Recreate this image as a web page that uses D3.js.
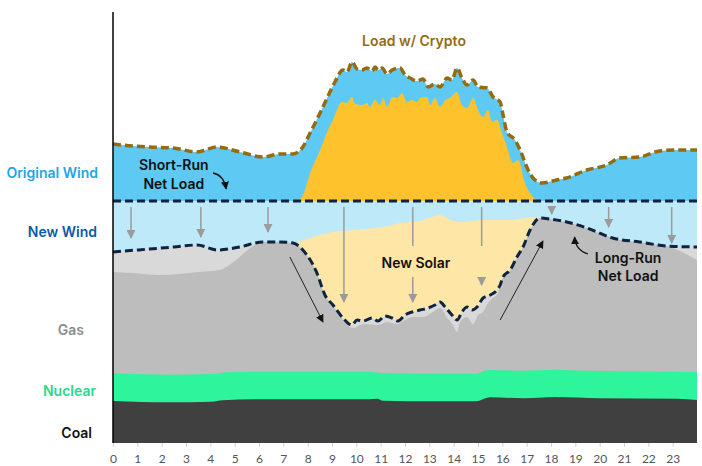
<!DOCTYPE html>
<html>
<head>
<meta charset="utf-8">
<script src="https://cdn.jsdelivr.net/npm/d3@7"></script>
<style>
body { margin: 0; background: #fff; }
text { font-family: Inter, "DejaVu Sans", sans-serif; }
</style>
</head>
<body>
<div id="chart"></div>
<script>
var width = 702, height = 466;

// values as [hour, GW]
var loadWithCrypto = [[0,29.9],[0.8,29.7],[1.5,29.6],[2.47,29.5],[3.45,29.1],[4.27,29.6],[5.22,29.1],[6.16,28.6],[6.86,28.9],[7.4,28.9],
  [7.8,29.6],[8.1,31.0],[8.51,33.0],[8.8,34.5],[9.12,36.1],[9.45,37.3],[9.62,37.1],[9.82,38.1],[10.03,37.4],[10.23,37.3],
  [10.44,37.5],[10.65,37.2],[10.77,37.6],[10.89,37.3],[11.06,37.5],[11.26,36.9],[11.47,37.3],[11.8,37.5],[12.0,36.8],[12.21,36.5],
  [12.5,36.2],[12.74,36.4],[12.95,35.6],[13.23,35.9],[13.44,35.6],[13.73,36.5],[13.93,36.3],[14.14,37.5],[14.34,36.5],[14.55,35.8],
  [14.8,36.3],[15.0,35.6],[15.37,35.5],[15.62,34.6],[15.91,34.1],[16.03,32.8],[16.19,31.1],[16.52,30.3],[16.73,29.3],[17.06,27.3],
  [17.3,26.4],[17.63,26.0],[18.23,26.3],[18.64,26.5],[19.47,27.3],[20.29,27.8],[20.82,28.5],[21.64,28.6],[22.46,29.2],[23.16,29.3],[24,29.3]];

var solarTop = [[7.56,24.2],[7.81,24.8],[8.1,27.0],[8.51,29.3],[8.8,31.1],[9.04,32.3],[9.41,34.1],[9.62,34.0],[9.82,34.6],[9.95,33.9],
  [10.23,33.8],[10.44,34.0],[10.56,33.6],[10.77,34.3],[10.97,33.8],[11.1,34.5],[11.26,33.6],[11.47,34.6],[11.67,34.5],[11.88,35.0],
  [12.08,34.1],[12.29,34.3],[12.49,34.1],[12.62,34.5],[12.91,34.6],[13.03,33.8],[13.23,34.5],[13.44,33.6],[13.65,34.3],[13.85,34.5],
  [14.14,35.1],[14.34,33.8],[14.55,33.5],[14.8,34.5],[15.0,33.3],[15.21,32.6],[15.41,33.3],[15.58,32.1],[15.78,32.3],[15.99,31.0],
  [16.19,29.6],[16.44,28.0],[16.65,28.3],[16.93,26.0],[17.26,24.6],[17.47,24.2]];

var shortRunNetLoad = [[0,24.2],[24,24.2]];

var newSolarTop = [[7.5,20.0],[8.2,20.6],[9.03,21.1],[9.86,21.3],[11.1,21.6],[11.8,22.0],[12.6,22.2],[13.1,22.6],[13.43,22.8],
  [13.9,22.3],[14.25,22.1],[15.2,22.3],[16.3,22.3],[17.25,22.6],[17.55,22.5]];

var longRunNetLoad = [[0,19.1],[1.5,19.4],[2.5,19.6],[3.45,19.8],[4.3,19.3],[5.2,19.6],[6.15,20.1],[6.8,20.1],[7.4,20.0],[7.8,19.3],
  [8.38,17.0],[8.71,14.8],[9.04,13.8],[9.45,12.5],[9.82,11.8],[10.03,12.3],[10.28,12.2],[10.65,12.5],[10.89,12.2],[11.18,12.7],
  [11.47,12.5],[11.71,12.2],[12.0,12.8],[12.29,13.1],[12.62,13.3],[12.95,13.5],[13.23,13.8],[13.44,14.1],[13.65,13.6],[13.93,12.8],
  [14.14,12.3],[14.34,13.1],[14.55,13.6],[14.76,13.3],[14.96,13.6],[15.21,14.5],[15.5,14.8],[15.78,15.3],[15.91,15.8],[16.03,16.6],
  [16.32,17.3],[16.6,18.6],[16.85,19.6],[17.14,21.3],[17.55,22.5],[17.95,22.4],[18.65,22.1],[19.47,21.5],[20.53,20.5],[21.64,20.1],
  [22.75,19.7],[24,19.6]];

var gasTop = [[0,17.1],[0.8,17.0],[1.9,16.8],[3.55,17.1],[4.4,17.3],[4.95,18.1],[5.65,19.5],[6.15,20.1],[6.8,20.1],[7.4,20.0],
  [7.8,19.3],[8.38,17.0],[8.71,14.8],[9.04,13.7],[9.45,12.3],[9.86,11.5],[10.3,11.9],[10.9,11.8],[11.26,12.1],[11.67,11.9],
  [11.92,12.2],[12.33,12.6],[12.74,12.6],[13.15,13.1],[13.44,13.5],[13.73,12.5],[13.97,11.8],[14.14,11.1],[14.26,12.1],[14.55,12.6],
  [14.8,11.9],[15.0,12.8],[15.21,13.1],[15.41,14.0],[15.62,14.5],[15.82,15.0],[16.0,16.5],[16.32,17.3],[16.6,18.6],[16.85,19.6],
  [17.14,21.3],[17.55,22.5],[17.95,22.4],[18.65,22.1],[19.47,21.5],[20.53,20.5],[21.64,20.1],[22.75,19.7],[23.0,19.5],[24,18.3]];

var nuclearTop = [[0,6.97],[2.3,6.83],[4.05,6.9],[4.7,7.07],[5.8,7.13],[10.55,7.13],[11.0,7.0],[13.2,6.93],[14.95,6.93],
  [15.4,7.3],[16.9,7.23],[18.15,7.33],[19.4,7.23],[23.2,7.13],[24,7.07]];

var coalTop = [[0,4.2],[2.3,4.07],[4.05,4.13],[4.5,4.27],[5.8,4.37],[10.5,4.37],[10.85,4.43],[11.1,4.23],[13.2,4.17],[14.9,4.17],
  [15.5,4.57],[16.9,4.47],[18.15,4.6],[20,4.47],[23.2,4.43],[24,4.3]];

var hourTicks = d3.range(0, 24);

// gray "shift" arrows from short-run down to long-run net load
var shiftHours = [0.74, 3.61, 6.37, 9.49, 12.32, 15.15, 18.03, 20.37, 22.96];
var shiftEnds = [20.5, 20.6, 21.1, 14.1, 14.1, 15.8, 22.9, 21.6, 20.0];

var sideLabels = ["Original Wind", "New Wind", "Gas", "Nuclear", "Coal"];

var svg = d3.select("#chart").append("svg")
    .attr("width", width)
    .attr("height", height);

var x = d3.scaleLinear().domain([0, 24]).range([113, 697]),
    y = d3.scaleLinear().domain([0, 43]).range([443, 13]);

var defs = svg.append("defs");
function marker(id, color, size) {
    defs.append("marker")
        .attr("id", id)
        .attr("viewBox", "0 0 10 10")
        .attr("refX", 9).attr("refY", 5)
        .attr("markerUnits", "userSpaceOnUse")
        .attr("markerWidth", size).attr("markerHeight", size)
        .attr("orient", "auto")
      .append("path")
        .attr("d", "M0,0L10,5L0,10z")
        .attr("fill", color);
}
marker("headGray", "#9b9b9b", 9);
marker("headBlack", "#111", 8);

var areaGen = d3.area()
    .x(function(d) { return x(d[0]); })
    .y0(y(0))
    .y1(function(d) { return y(d[1]); })
    .curve(d3.curveMonotoneX);

var lineGen = d3.line()
    .x(function(d) { return x(d[0]); })
    .y(function(d) { return y(d[1]); })
    .curve(d3.curveMonotoneX);

defs.append("clipPath").attr("id", "belowLongRun")
  .append("path").attr("d", areaGen(longRunNetLoad));

var g = svg.append("g");

// painted top layer first, each lower boundary covers the rest
function layer(data, fill, clip) {
    var p = g.append("path").attr("d", areaGen(data)).attr("fill", fill);
    if (clip) p.attr("clip-path", "url(#" + clip + ")");
}
layer(loadWithCrypto, "#5ec9f2");
layer(solarTop, "#fec32c");
layer(shortRunNetLoad, "#bde9f8");
layer(newSolarTop, "#fde6a6");
layer(longRunNetLoad, "#d9d9d9");
layer(gasTop, "#bcbdbc", "belowLongRun");
layer(nuclearTop, "#2ef59b");
layer(coalTop, "#404040");

// shift arrows
shiftHours.forEach(function(h, i) {
    var gap = (h > 12 && h < 16);
    if (gap) {
        g.append("line")
            .attr("x1", x(h)).attr("x2", x(h))
            .attr("y1", y(23.6)).attr("y2", y(19.7))
            .attr("stroke", "#9b9b9b").attr("stroke-width", 1.5);
        g.append("line")
            .attr("x1", x(h)).attr("x2", x(h))
            .attr("y1", y(16.6)).attr("y2", y(shiftEnds[i]))
            .attr("stroke", "#9b9b9b").attr("stroke-width", 1.5)
            .attr("marker-end", "url(#headGray)");
    } else {
        g.append("line")
            .attr("x1", x(h)).attr("x2", x(h))
            .attr("y1", y(23.6)).attr("y2", y(shiftEnds[i]))
            .attr("stroke", "#9b9b9b").attr("stroke-width", 1.5)
            .attr("marker-end", "url(#headGray)");
    }
});

// net load and load lines
g.append("path").attr("d", lineGen(shortRunNetLoad))
    .attr("fill", "none").attr("stroke", "#0f2340").attr("stroke-width", 3)
    .attr("stroke-dasharray", "8,4");
g.append("path").attr("d", lineGen(longRunNetLoad))
    .attr("fill", "none").attr("stroke", "#0f2340").attr("stroke-width", 3)
    .attr("stroke-dasharray", "8,4");
g.append("path").attr("d", lineGen(loadWithCrypto))
    .attr("fill", "none").attr("stroke", "#946b10").attr("stroke-width", 3.5)
    .attr("stroke-dasharray", "8,4");

// black pointer arrows
function pointer(a, b) {
    g.append("line")
        .attr("x1", x(a[0])).attr("y1", y(a[1]))
        .attr("x2", x(b[0])).attr("y2", y(b[1]))
        .attr("stroke", "#222").attr("stroke-width", 1)
        .attr("marker-end", "url(#headBlack)");
}
pointer([7.27, 18.6], [8.63, 12.1]);
pointer([15.91, 12.3], [17.67, 20.2]);

function curved(a, c, b) {
    var p = d3.path();
    p.moveTo(x(a[0]), y(a[1]));
    p.quadraticCurveTo(x(c[0]), y(c[1]), x(b[0]), y(b[1]));
    g.append("path").attr("d", p.toString())
        .attr("fill", "none").attr("stroke", "#111").attr("stroke-width", 1.3)
        .attr("marker-end", "url(#headBlack)");
}
curved([4.11, 27.0], [4.55, 26.8], [4.65, 25.4]);
curved([19.52, 18.9], [19.0, 19.3], [18.97, 20.6]);

// axes
var xAxis = d3.axisBottom(x).tickValues(hourTicks).tickSize(4).tickPadding(7);
var ax = svg.append("g").attr("transform", "translate(0," + y(0) + ")").call(xAxis);
ax.select(".domain").remove();
ax.selectAll(".tick line").attr("stroke", "#cfcfcf");
ax.selectAll(".tick text").attr("fill", "#555").attr("font-size", 12)
    .style("font-family", "Lato, 'DejaVu Sans', sans-serif");

svg.append("line")
    .attr("x1", x(0)).attr("x2", x(0))
    .attr("y1", y(43.1)).attr("y2", y(0))
    .attr("stroke", "#000").attr("stroke-width", 1.5);

// annotations
function note(txt, h, v, color) {
    svg.append("text")
        .attr("x", x(h)).attr("y", y(v))
        .attr("text-anchor", "middle")
        .attr("font-size", 14).attr("font-weight", 600)
        .attr("fill", color)
        .text(txt);
}
note("Load w/ Crypto", 12.37, 39.7, "#946b10");
note("Short-Run", 2.5, 27.3, "#111");
note("Net Load", 2.5, 25.4, "#111");
note("New Solar", 12.45, 17.5, "#111");
note("Long-Run", 21.17, 18.0, "#111");
note("Net Load", 21.17, 16.2, "#111");

var sideColors = ["#1ea7e6", "#0b5aa8", "#8c8c8c", "#2bd98c", "#111"],
    sideX = [98, 97, 84, 96, 92],
    sideY = [26.5, 20.6, 10.8, 4.7, 0.5];
sideLabels.forEach(function(t, i) {
    svg.append("text")
        .attr("x", sideX[i]).attr("y", y(sideY[i]))
        .attr("text-anchor", "end")
        .attr("font-size", 14).attr("font-weight", 600)
        .attr("fill", sideColors[i])
        .text(t);
});
</script>
</body>
</html>
